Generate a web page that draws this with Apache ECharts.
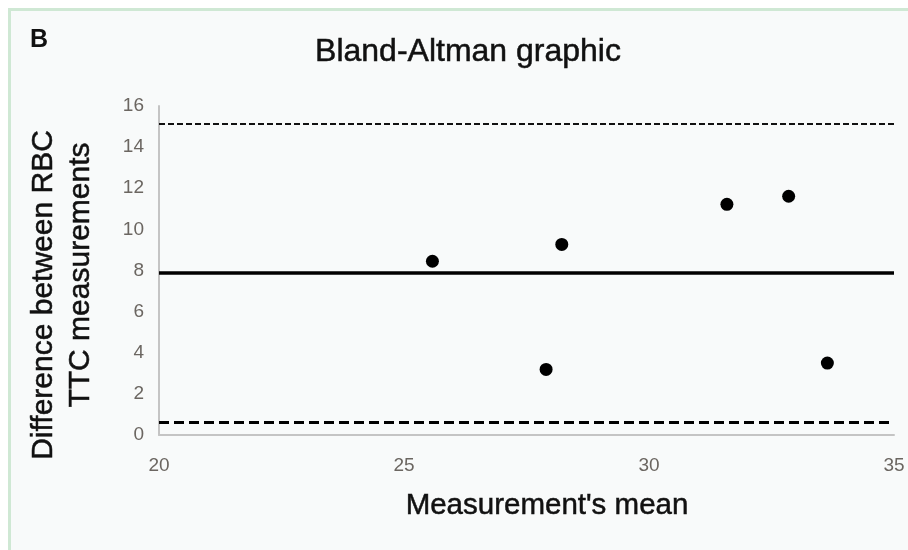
<!DOCTYPE html>
<html>
<head>
<meta charset="utf-8">
<script src="https://cdn.jsdelivr.net/npm/echarts@6/dist/echarts.min.js"></script>
<style>
  html, body { margin: 0; padding: 0; background: #ffffff; overflow: hidden; width: 908px; height: 550px; }
  #frame {
    position: absolute; left: 8px; top: 8px; right: 0; bottom: 0;
    border-left: 3px solid #cfe8d4; border-top: 3px solid #cfe8d4;
    background: #f8fafa;
  }
  #chart { position: absolute; left: 0; top: 0; width: 908px; height: 550px; }
</style>
</head>
<body>
<div id="frame"></div>
<div id="chart"></div>
<script>
// Mean of the two RBC TTC measurements (x) and their difference (y)
const meanValues = [25.58, 27.90, 28.22, 31.59, 32.85, 33.64];
const diffValues = [8.45, 3.19, 9.27, 11.22, 11.61, 3.50];

// Bias and 95% limits of agreement
const bias = 7.87;
const upperLimit = 15.13;
const lowerLimit = 0.62;

const xTicks = { min: 20, max: 35, interval: 5 };
const yTicks = { min: 0, max: 16, interval: 2 };

const points = meanValues.map((m, i) => [m, diffValues[i]]);

const chart = echarts.init(document.getElementById('chart'), null, { renderer: 'canvas' });

const textFont = 'Liberation Sans, Arial, sans-serif';
const tickFont = { color: '#6b6661', fontSize: 19, fontFamily: textFont };
// thin outline gives the headings a slightly heavier stroke
const heavy = { stroke: '#111', lineWidth: 0.5 };

chart.setOption({
  backgroundColor: 'transparent',
  animation: false,
  title: {
    text: 'Bland-Altman graphic',
    left: 463,
    top: 31,
    textAlign: 'center',
    textStyle: { fontFamily: textFont, fontSize: 32, fontWeight: 'normal', color: '#111',
                 textBorderColor: '#111', textBorderWidth: 0.5 }
  },
  graphic: [
    {
      type: 'text', left: 30, top: 28,
      style: { text: 'B', font: 'bold 25px ' + textFont, fill: '#111' }
    },
    {
      type: 'text', x: 44, y: 295, rotation: Math.PI / 2,
      style: Object.assign({ text: 'Difference between RBC', font: '30px ' + textFont, fill: '#111',
               align: 'center', verticalAlign: 'middle' }, heavy)
    },
    {
      type: 'text', x: 81, y: 275, rotation: Math.PI / 2,
      style: Object.assign({ text: 'TTC measurements', font: '30px ' + textFont, fill: '#111',
               align: 'center', verticalAlign: 'middle' }, heavy)
    },
    {
      type: 'text', x: 547, y: 506,
      style: Object.assign({ text: "Measurement's mean", font: '29.5px ' + textFont, fill: '#111',
               align: 'center', verticalAlign: 'middle' }, heavy)
    }
  ],
  grid: { left: 159, right: 14, top: 106, bottom: 115, containLabel: false },
  xAxis: {
    type: 'value',
    min: xTicks.min, max: xTicks.max, interval: xTicks.interval,
    axisLine: { show: true, onZero: false, lineStyle: { color: '#c4c4c4', width: 2 } },
    axisTick: { show: false },
    splitLine: { show: false },
    axisLabel: Object.assign({ margin: 21 }, tickFont)
  },
  yAxis: {
    type: 'value',
    min: yTicks.min, max: yTicks.max, interval: yTicks.interval,
    axisLine: { show: true, lineStyle: { color: '#c4c4c4', width: 2 } },
    axisTick: { show: false },
    splitLine: { show: false },
    axisLabel: Object.assign({ margin: 15 }, tickFont)
  },
  series: [
    {
      type: 'scatter',
      data: points,
      symbol: 'circle',
      symbolSize: 13,
      itemStyle: { color: '#000', opacity: 1 },
      z: 5,
      markLine: {
        silent: true,
        symbol: ['none', 'none'],
        label: { show: false },
        data: [
          { yAxis: upperLimit, lineStyle: { color: '#111', width: 2.2, type: [6, 3] } },
          { yAxis: bias, lineStyle: { color: '#000', width: 3.5, type: 'solid' } },
          { yAxis: lowerLimit, lineStyle: { color: '#000', width: 3, type: [10, 5] } }
        ]
      }
    }
  ]
});
</script>
</body>
</html>
